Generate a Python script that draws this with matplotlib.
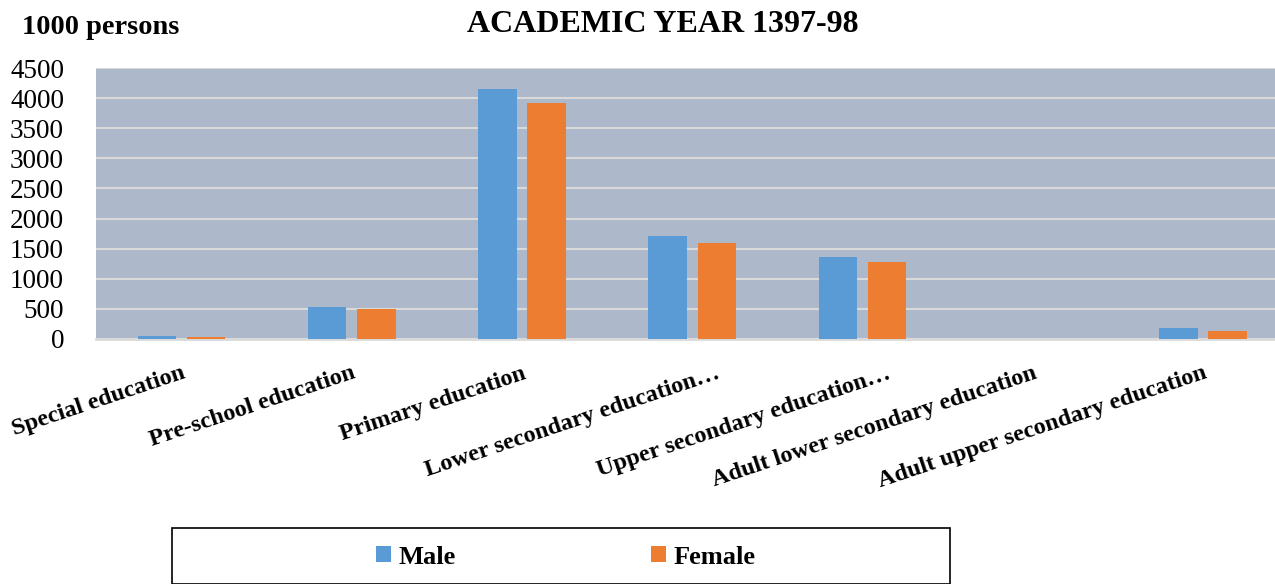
import matplotlib
matplotlib.use("Agg")
import matplotlib.pyplot as plt
import numpy as np
from matplotlib.patches import Patch, Rectangle
from matplotlib.transforms import ScaledTranslation

categories = ["Special education", "Pre-school education", "Primary education",
              "Lower secondary education…", "Upper secondary education…",
              "Adult lower secondary education", "Adult upper secondary education"]
male = [55, 531, 4151, 1710, 1362, 0, 188]
female = [33, 498, 3919, 1594, 1279, 0, 133]
yticks = [0, 500, 1000, 1500, 2000, 2500, 3000, 3500, 4000, 4500]

blue = "#5B9BD5"
orange = "#ED7D31"
serif = "Liberation Serif"

fig = plt.figure(figsize=(12.75, 5.84), dpi=100)
ax = fig.add_axes([96/1275, 1-339/584, 1192/1275, (339-68)/584])
ax.set_facecolor("#ADB9CA")

x = np.arange(len(categories))
w = 0.226
ax.bar(x - 0.143, male, w, color=blue, zorder=3)
ax.bar(x + 0.146, female, w, color=orange, zorder=3)

ax.set_xlim(-0.5, len(categories) - 0.5)
ax.set_ylim(0, 4500)
ax.set_yticks(yticks)
ax.set_yticklabels([str(v) for v in yticks], fontfamily=serif, fontsize=19.5)
ax.yaxis.grid(True, color="#D9D9D9", linewidth=1.5, zorder=1)
ax.set_axisbelow(True)
for s in ["top", "right", "left"]:
    ax.spines[s].set_visible(False)
ax.spines["bottom"].set_color("#D9D9D9")
ax.spines["bottom"].set_linewidth(2)
ax.tick_params(axis="both", length=0)
ax.tick_params(axis="y", pad=23)

ax.set_xticks(x)
ax.set_xticklabels(categories, fontfamily=serif, fontweight="bold", fontsize=17.5,
                   rotation=18.5, ha="right", rotation_mode="anchor")
for lab in ax.get_xticklabels():
    dx = 24 if lab.get_text().endswith("…") else 0
    offset = ScaledTranslation(dx/100, -19/100, fig.dpi_scale_trans)
    lab.set_transform(lab.get_transform() + offset)

fig.text(663/1275, 1-24/584, "ACADEMIC YEAR 1397-98", ha="center", va="center",
         fontfamily=serif, fontweight="bold", fontsize=23)
fig.text(22/1275, 1-28/584, "1000 persons", ha="left", va="center",
         fontfamily=serif, fontweight="bold", fontsize=20.4)

rect = Rectangle((172/1275, 0), (950-172)/1275, (584-528)/584, transform=fig.transFigure,
                 fill=False, edgecolor="black", linewidth=1.2, clip_on=False)
fig.patches.append(rect)

handles = [Patch(facecolor=blue, label="Male"), Patch(facecolor=orange, label="Female")]
fig.legend(handles=handles, loc="center", bbox_to_anchor=(566/1275, 1-557/584), ncol=2,
           frameon=False, prop={"family": serif, "weight": "bold", "size": 19},
           handlelength=0.55, handleheight=0.55, handletextpad=0.3, columnspacing=7.4)

fig.savefig("out.png", dpi=100)
